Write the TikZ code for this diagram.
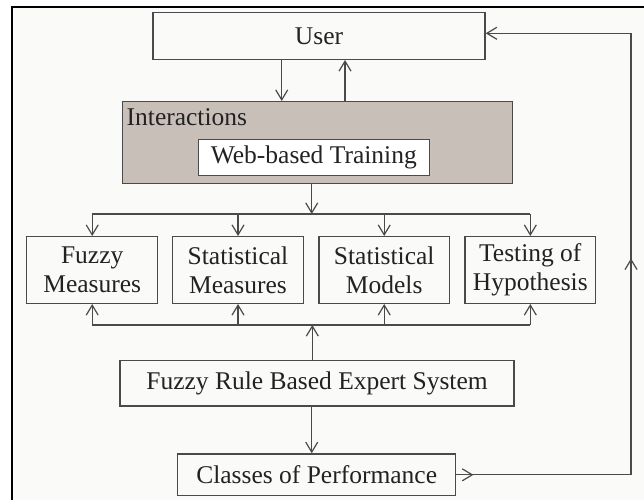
\documentclass[tikz,border=0pt]{standalone}
\usepackage{fontspec}
\setmainfont{Liberation Serif}
\usetikzlibrary{arrows.meta,decorations.markings}
\definecolor{bg}{HTML}{FAFAF8}
\definecolor{ln}{HTML}{4A4A4A}
\definecolor{tx}{HTML}{222222}
\definecolor{interfill}{HTML}{C8BFB9}
\tikzset{
  box/.style={draw=ln, line width=1.4pt, fill=bg, inner sep=0pt, align=center, text=tx},
  conn/.style={draw=ln, line width=1.2pt},
  arr/.style={conn, -{Straight Barb[length=10pt,width=12pt]}},
}
\begin{document}
\begin{tikzpicture}[x=1pt,y=-1pt, font=\fontsize{25.5}{29}\selectfont]
\useasboundingbox (0,0) rectangle (644,500);
\fill[white] (0,0) rectangle (644,500);
\fill[bg] (11.7,7.3) rectangle (644,500);
\draw[black, line width=2.2pt] (11.7,500) -- (11.7,7.3) -- (644,7.3);

% nodes
\node[box, minimum width=332pt, minimum height=46.6pt] (user) at (319,36) {User};
\node[box, fill=interfill, minimum width=390pt, minimum height=82pt] (inter) at (317.7,142.7) {};
\node[anchor=base west, inner sep=0pt, text=tx] (intlabel) at ([xshift=4.5pt,yshift=-24.3pt]inter.north west) {Interactions};
\node[box, fill=white, minimum width=231pt, minimum height=36.4pt] (web) at (313.8,157.5) {Web-based Training};

\node[box, minimum width=131pt, minimum height=66.6pt] (fm) at (92.2,270) {Fuzzy\\Measures};
\node[box, minimum width=130.6pt, minimum height=66.6pt] (sm) at (238,270) {Statistical\\Measures};
\node[box, minimum width=130.3pt, minimum height=66.6pt] (smod) at (384.2,270) {Statistical\\Models};
\node[box, minimum width=130.7pt, minimum height=66.6pt] (th) at (530.3,270) {Testing of\\Hypothesis};

\node[box, minimum width=394pt, minimum height=45.3pt] (rule) at (317,383.3) {Fuzzy Rule Based Expert System};
\node[box, minimum width=278pt, minimum height=41.7pt] (cls) at (316.7,474.8) {Classes of Performance};

% coordinates
\coordinate (dn) at (281.7,0);
\coordinate (up) at (345,0);
\coordinate (bt) at (311.7,214);
\coordinate (bb) at (312.3,325);
\coordinate (lc) at (631,33.3);

% user <-> interactions
\draw[arr] (user.south -| dn) -- (inter.north -| dn);
\draw[arr] (inter.north -| up) -- (user.south -| up);

% interactions to top bus
\draw[arr] (inter.south -| bt) -- (bt);
\draw[conn] (fm.north |- bt) -- (th.north |- bt);
\foreach \n in {fm,sm,smod,th} \draw[arr] (\n.north |- bt) -- (\n.north);

% rule to bottom bus
\draw[arr] (rule.north -| bb) -- (bb);
\draw[conn] (fm.south |- bb) -- (th.south |- bb);
\foreach \n in {fm,sm,smod,th} \draw[arr] (\n.south |- bb) -- (\n.south);

% rule to classes
\draw[arr] (rule.south -| bt) -- (cls.north -| bt);

% feedback loop
\draw[arr, postaction={decorate}, decoration={markings,
   mark=at position 17pt with {\arrow{Straight Barb[length=10pt,width=12pt]}},
   mark=at position 391pt with {\arrow{Straight Barb[length=10pt,width=12pt]}}}]
  (cls.east) -- (cls.east -| lc) -- (lc) -- (user.east |- lc);
\end{tikzpicture}
\end{document}
